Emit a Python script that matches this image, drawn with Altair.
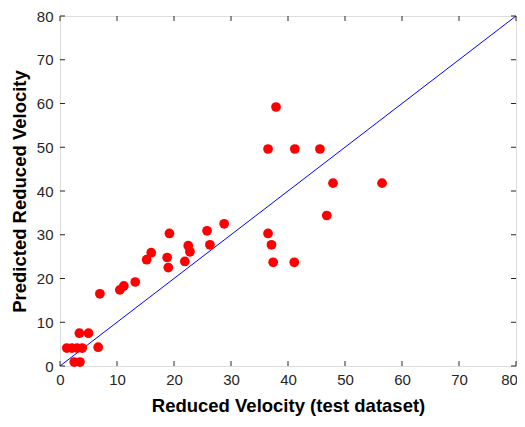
import altair as alt
import pandas as pd

# Data
actual = [37.9, 36.5, 41.2, 45.6, 47.9, 56.5, 46.8, 36.5, 37.1, 37.4, 41.1,
          28.8, 25.8, 26.3, 19.2, 22.5, 22.8, 21.9, 18.8, 19.0, 16.0, 15.2,
          13.2, 11.2, 10.5, 7.0, 6.7, 3.4, 5.0, 1.2, 2.1, 3.0, 3.9, 2.5, 3.5]
predicted = [59.2, 49.6, 49.6, 49.6, 41.8, 41.8, 34.4, 30.3, 27.7, 23.7, 23.7,
             32.5, 30.9, 27.7, 30.3, 27.5, 26.1, 23.9, 24.8, 22.5, 25.9, 24.3,
             19.2, 18.3, 17.4, 16.5, 4.3, 7.5, 7.5, 4.1, 4.1, 4.1, 4.1, 0.9, 0.9]
ref_line_x = [0, 80]
ref_line_y = [0, 80]
tick_values = [0, 10, 20, 30, 40, 50, 60, 70, 80]

W, H = 456, 350
TL = 5
TICK_COLOR = "#262626"
FONT = "Liberation Sans"

pts = pd.DataFrame({"x": actual, "y": predicted})
line_df = pd.DataFrame({"x": ref_line_x, "y": ref_line_y})
ticks_df = pd.DataFrame({"v": tick_values})

xscale = alt.Scale(domain=[0, 80], nice=False)
yscale = alt.Scale(domain=[0, 80], nice=False)

xaxis = alt.Axis(values=tick_values, title="Reduced Velocity (test dataset)",
                 grid=False, ticks=False, domain=False, labelPadding=6,
                 titlePadding=9, labelFontSize=15, titleFontSize=18.5,
                 labelColor=TICK_COLOR, titleColor="#000000", labelFont=FONT,
                 titleFont=FONT, titleFontWeight="bold", labelFlush=False,
                 labelOffset={"condition": {"test": "datum.value == 80", "value": -7},
                              "value": 0})
yaxis = alt.Axis(values=tick_values, title="Predicted Reduced Velocity",
                 grid=False, ticks=False, domain=False, labelPadding=7,
                 titlePadding=7, labelFontSize=15, titleFontSize=18.5,
                 labelColor=TICK_COLOR, titleColor="#000000", labelFont=FONT,
                 titleFont=FONT, titleFontWeight="bold", labelFlush=False)

line = alt.Chart(line_df).mark_line(color="#0000ff", strokeWidth=1, clip=True).encode(
    x=alt.X("x:Q", scale=xscale, axis=xaxis),
    y=alt.Y("y:Q", scale=yscale, axis=yaxis),
)

points = alt.Chart(pts).mark_circle(color="#ff0000", size=95, opacity=1).encode(
    x=alt.X("x:Q", scale=xscale),
    y=alt.Y("y:Q", scale=yscale),
)

tb = alt.Chart(ticks_df).mark_rule(color=TICK_COLOR, strokeWidth=1).encode(
    x=alt.X("v:Q", scale=xscale), y=alt.value(H), y2=alt.value(H - TL))
tt = alt.Chart(ticks_df).mark_rule(color=TICK_COLOR, strokeWidth=1).encode(
    x=alt.X("v:Q", scale=xscale), y=alt.value(0), y2=alt.value(TL))
tl = alt.Chart(ticks_df).mark_rule(color=TICK_COLOR, strokeWidth=1).encode(
    y=alt.Y("v:Q", scale=yscale), x=alt.value(0), x2=alt.value(TL))
tr = alt.Chart(ticks_df).mark_rule(color=TICK_COLOR, strokeWidth=1).encode(
    y=alt.Y("v:Q", scale=yscale), x=alt.value(W), x2=alt.value(W - TL))

chart = alt.layer(line, tb, tt, tl, tr, points).properties(
    width=W, height=H,
    autosize=alt.AutoSizeParams(type="none"),
    padding={"left": 52, "top": 8, "right": 1, "bottom": 53},
).configure_view(stroke=TICK_COLOR, strokeWidth=1).configure(background="white")

chart.save("out.html", embed_options={"renderer": "svg", "actions": False})
